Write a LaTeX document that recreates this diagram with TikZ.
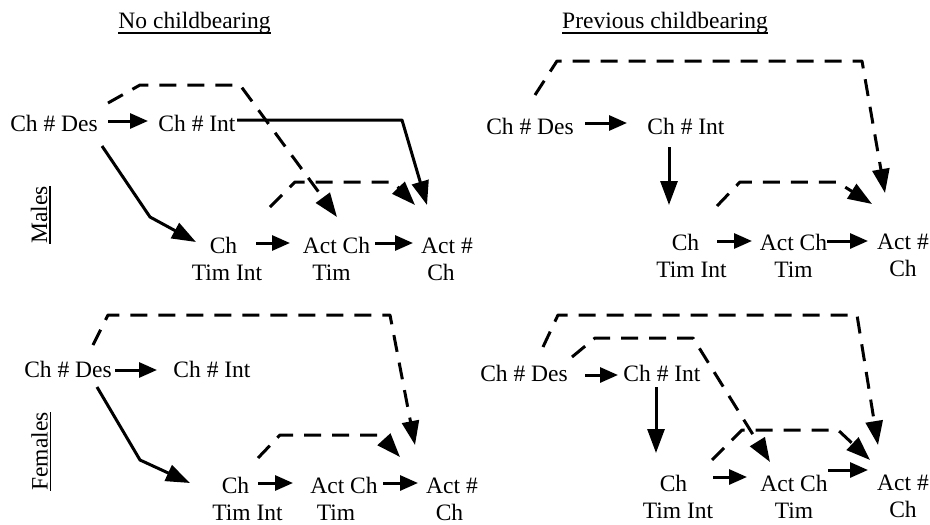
\documentclass[tikz,border=0pt]{standalone}
\usepackage{fontspec}
\setmainfont{Liberation Serif}
\usetikzlibrary{arrows.meta,calc}

% text with a thick rule under it; #1 = drop of the rule below the baseline
\newcommand{\ulbox}[2]{\setbox0\hbox{#2}\leavevmode\rlap{\rule[-#1]{\wd0}{1.8pt}}\box0}
% invisible padding used to offset a line inside a centred node
\newcommand{\padr}[1]{\rule{#1}{0pt}}

\begin{document}
\begin{tikzpicture}[x=1pt,y=-1pt,
  lab/.style={font=\fontsize{23.5}{27}\selectfont, inner sep=0pt, align=center},
  link/.style={line width=3pt, line join=round, -{Triangle[length=24pt,width=17pt]}},
  linkS/.style={line width=3pt, -{Triangle[length=18pt,width=15pt]}},
  dlink/.style={link, dash pattern=on 17pt off 11pt}]

\fill[white] (0,0) rectangle (930,525);
\useasboundingbox (0,0) rectangle (930,525);

% column and row headings
\node[lab, anchor=base] (ttl1) at (194.5,28) {\ulbox{5.8pt}{No childbearing}};
\node[lab, anchor=base] (ttl2) at (665,28) {\ulbox{5.8pt}{Previous childbearing}};
\node[lab, anchor=base, rotate=90] (male) at (47,215) {\ulbox{4pt}{Males}};
\node[lab, anchor=base, rotate=90] (fem) at (47.5,451.5) {\ulbox{4pt}{Females}};

% ---- Males, no childbearing ----
\node[lab] (des1) at (54,123) {Ch \# Des};
\node[lab] (int1) at (197,123) {Ch \# Int};
\node[lab] (tim1) at (227,258.5) {Ch\padr{7pt}\\Tim Int};
\node[lab] (act1) at (336.5,258.5) {Act Ch\\Tim\padr{10pt}};
\node[lab] (num1) at (447,259) {Act \#\\Ch\padr{12pt}};

\draw[linkS] ($(des1)+(54,-2)$) -- ($(int1)+(-49,-2)$);
\draw[link] ($(des1)+(48,23)$) -- (150,217) -- ($(tim1)+(-31,-16.5)$);
\draw[link] ($(int1)+(40,-3)$) -- (402,120) -- ($(num1)+(-20,-54)$);
\draw[dlink] ($(des1)+(54,-20)$) -- (140,85) -- (240,85) -- ($(act1)+(0.5,-41.5)$);
\draw[dlink] ($(tim1)+(43,-51.5)$) -- (295,182) -- (393,182) -- ($(num1)+(-32,-54)$);
\draw[linkS] ($(tim1)+(29,-15.5)$) -- ($(act1)+(-46.5,-15.5)$);
\draw[linkS] ($(act1)+(38.5,-15.5)$) -- ($(num1)+(-34,-16)$);

% ---- Males, previous childbearing ----
\node[lab] (des2) at (530,126) {Ch \# Des};
\node[lab] (int2) at (686,126) {Ch \# Int};
\node[lab] (tim2) at (691.5,255.5) {Ch\padr{12pt}\\Tim Int};
\node[lab] (act2) at (793.5,255.5) {Act Ch\\Tim};
\node[lab] (num2) at (903,255.5) {Act \#\\Ch};

\draw[linkS] ($(des2)+(55,-3)$) -- ($(int2)+(-59,-3)$);
\draw[link] ($(int2)+(-17,21)$) -- ($(tim2)+(-22.5,-50.5)$);
\draw[dlink] ($(des2)+(5,-31)$) -- (557,61) -- (862,61) -- ($(num2)+(-18,-62.5)$);
\draw[dlink] ($(tim2)+(25.5,-49.5)$) -- (740,182) -- (837,182) -- ($(num2)+(-31,-51.5)$);
\draw[linkS] ($(tim2)+(25.5,-14.5)$) -- ($(act2)+(-41.5,-14.5)$);
\draw[linkS] ($(act2)+(33.5,-14.5)$) -- ($(num2)+(-35,-14.5)$);

% ---- Females, no childbearing ----
\node[lab] (des3) at (68,369) {Ch \# Des};
\node[lab] (int3) at (212,369) {Ch \# Int};
\node[lab] (tim3) at (247.5,499) {Ch\padr{24pt}\\Tim Int};
\node[lab] (act3) at (344,499) {Act Ch\\Tim\padr{16pt}};
\node[lab] (num3) at (452,499) {Act \#\\Ch\padr{5pt}};

\draw[linkS] ($(des3)+(47,1)$) -- ($(int3)+(-55,1)$);
\draw[link] ($(des3)+(29,18)$) -- (140,460) -- ($(tim3)+(-57.5,-16)$);
\draw[dlink] ($(des3)+(25,-24)$) -- (108,315) -- (390,315) -- ($(num3)+(-37,-54)$);
\draw[dlink] ($(tim3)+(10.5,-41)$) -- (280,435) -- (380,435) -- ($(num3)+(-52,-42)$);
\draw[linkS] ($(tim3)+(10.5,-16)$) -- ($(act3)+(-51,-16)$);
\draw[linkS] ($(act3)+(39,-16)$) -- ($(num3)+(-34,-16)$);

% ---- Females, previous childbearing ----
\node[lab] (des4) at (524,373) {Ch \# Des};
\node[lab] (int4) at (662,373) {Ch \# Int};
\node[lab] (tim4) at (678,496.5) {Ch\padr{9pt}\\Tim Int};
\node[lab] (act4) at (794,496.5) {Act Ch\\Tim};
\node[lab] (num4) at (903,496.5) {Act \#\\Ch};

\draw[linkS] ($(des4)+(61,2)$) -- ($(int4)+(-44,2)$);
\draw[link] ($(int4)+(-6,14)$) -- ($(tim4)+(-22,-43.5)$);
\draw[dlink] ($(des4)+(19,-26)$) -- (558,315) -- (857,315) -- ($(num4)+(-25,-51.5)$);
\draw[dlink] ($(des4)+(48,-16)$) -- (595,338) -- (693,338) -- ($(act4)+(-24,-34.5)$);
\draw[dlink] ($(tim4)+(34,-36.5)$) -- (742,430) -- (838,430) -- ($(num4)+(-33,-36.5)$);
\draw[linkS] ($(tim4)+(35,-19.5)$) -- ($(act4)+(-47,-19.5)$);
\draw[linkS] ($(act4)+(34,-26.5)$) -- ($(num4)+(-35,-26.5)$);

\end{tikzpicture}
\end{document}
